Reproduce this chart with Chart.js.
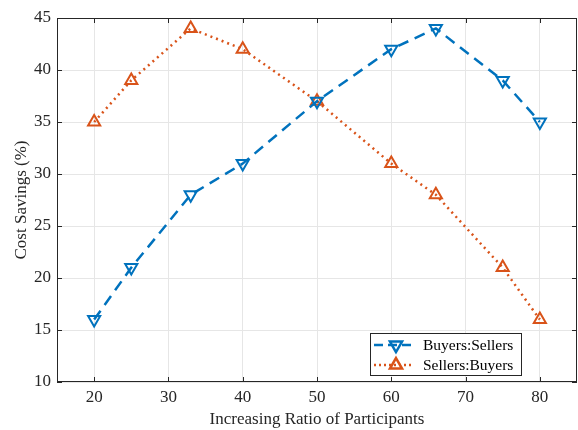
<!DOCTYPE html>
<html>
<head>
<meta charset="utf-8">
<script src="https://cdn.jsdelivr.net/npm/chart.js@4/dist/chart.umd.min.js"></script>
<style>
  html, body { margin: 0; padding: 0; background: #fff; }
  #wrap { width: 578px; height: 430px; }
</style>
</head>
<body>
<div id="wrap"><canvas id="c" width="578" height="430"></canvas></div>
<script>
// data
const ratios = [20, 25, 33, 40, 50, 60, 66, 75, 80];
const buyersSellers = [16, 21, 28, 31, 37, 42, 44, 39, 35];
const sellersBuyers = [35, 39, 44, 42, 37, 31, 28, 21, 16];
const xTicks = [20, 30, 40, 50, 60, 70, 80];
const yTicks = [10, 15, 20, 25, 30, 35, 40, 45];

const BLUE = '#0072BD';
const ORANGE = '#D95319';
const AXIS = '#262626';
const FONT = '"Liberation Serif", "Times New Roman", serif';

// box around plot + inward ticks on all four sides, and legend inside
const matlabBox = {
    id: 'matlabBox',
    afterDraw(chart) {
        const { ctx, chartArea: a, scales } = chart;
        ctx.save();
        ctx.strokeStyle = AXIS;
        ctx.lineWidth = 1;
        ctx.strokeRect(a.left + 0.5, a.top + 0.5, a.right - a.left - 1, a.bottom - a.top - 1);
        const len = 5;
        ctx.beginPath();
        xTicks.forEach(v => {
            const x = Math.round(scales.x.getPixelForValue(v)) + 0.5;
            ctx.moveTo(x, a.bottom); ctx.lineTo(x, a.bottom - len);
            ctx.moveTo(x, a.top); ctx.lineTo(x, a.top + len);
        });
        yTicks.forEach(v => {
            const y = Math.round(scales.y.getPixelForValue(v)) + 0.5;
            ctx.moveTo(a.left, y); ctx.lineTo(a.left + len, y);
            ctx.moveTo(a.right, y); ctx.lineTo(a.right - len, y);
        });
        ctx.stroke();

        // legend
        const lx = 370, ly = 333, lw = 151, lh = 42;
        ctx.fillStyle = '#fff';
        ctx.fillRect(lx, ly, lw, lh);
        ctx.strokeStyle = AXIS;
        ctx.strokeRect(lx + 0.5, ly + 0.5, lw, lh);
        ctx.font = '15.5px ' + FONT;
        ctx.textBaseline = 'middle';
        const rows = [
            { label: 'Buyers:Sellers', color: BLUE, dash: [9, 5], rot: 180, y: ly + 12 },
            { label: 'Sellers:Buyers', color: ORANGE, dash: [2, 3], rot: 0, y: ly + 32 }
        ];
        rows.forEach(r => {
            ctx.strokeStyle = r.color;
            ctx.lineWidth = 2.5;
            ctx.setLineDash(r.dash);
            ctx.beginPath();
            ctx.moveTo(lx + 4, r.y); ctx.lineTo(lx + 41, r.y);
            ctx.stroke();
            ctx.setLineDash([]);
            ctx.fillStyle = 'rgba(0,0,0,0)';
            ctx.lineWidth = 2.5;
            Chart.helpers.drawPoint(ctx, { pointStyle: 'triangle', radius: 7, rotation: r.rot, borderWidth: 2.5 }, lx + 26, r.y);
            ctx.fillStyle = '#000';
            ctx.fillText(r.label, lx + 53, r.y + 1);
        });
        ctx.restore();
    }
};

new Chart(document.getElementById('c'), {
    type: 'line',
    data: {
        datasets: [{
            label: 'Buyers:Sellers',
            data: ratios.map((x, i) => ({ x: x, y: buyersSellers[i] })),
            borderColor: BLUE,
            borderWidth: 2.5,
            borderDash: [11, 7],
            pointStyle: 'triangle',
            rotation: 180,
            pointRadius: 7,
            pointBorderWidth: 2,
            pointBackgroundColor: 'rgba(0,0,0,0)',
            pointBorderColor: BLUE,
            tension: 0
        }, {
            label: 'Sellers:Buyers',
            data: ratios.map((x, i) => ({ x: x, y: sellersBuyers[i] })),
            borderColor: ORANGE,
            borderWidth: 2.5,
            borderDash: [2, 4],
            pointStyle: 'triangle',
            pointRadius: 7,
            pointBorderWidth: 2,
            pointBackgroundColor: 'rgba(0,0,0,0)',
            pointBorderColor: ORANGE,
            tension: 0
        }]
    },
    options: {
        responsive: false,
        animation: false,
        layout: { autoPadding: false, padding: { top: 18, right: 1, left: 11, bottom: 0 } },
        plugins: { legend: { display: false }, tooltip: { enabled: false } },
        scales: {
            x: {
                type: 'linear',
                min: 15, max: 85,
                afterBuildTicks: s => { s.ticks = xTicks.map(v => ({ value: v })); },
                afterFit: s => { s.height = 48; },
                grid: { color: '#e6e6e6', drawTicks: false },
                border: { display: false },
                ticks: { color: AXIS, font: { family: FONT, size: 17 }, padding: 5 },
                title: { display: true, text: 'Increasing Ratio of Participants', color: AXIS, font: { family: FONT, size: 17 }, padding: { top: 0, bottom: 0 } }
            },
            y: {
                min: 10, max: 45,
                afterBuildTicks: s => { s.ticks = yTicks.map(v => ({ value: v })); },
                afterFit: s => { s.width = 46; },
                grid: { color: '#e6e6e6', drawTicks: false },
                border: { display: false },
                ticks: { color: AXIS, font: { family: FONT, size: 17 }, padding: 6 },
                title: { display: true, text: 'Cost Savings (%)', color: AXIS, font: { family: FONT, size: 17 }, padding: { top: 0, bottom: 4 } }
            }
        }
    },
    plugins: [matlabBox]
});
</script>
</body>
</html>
